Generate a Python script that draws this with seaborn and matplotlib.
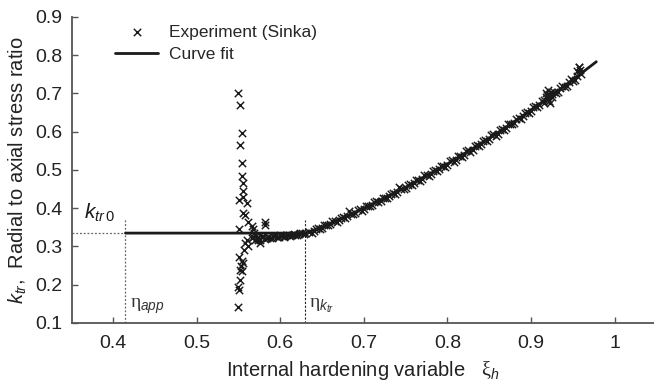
import matplotlib
matplotlib.use("Agg")
import matplotlib.pyplot as plt
import pandas as pd
import seaborn as sns

# ---------------- data ----------------
fit_x = [0.415, 0.630, 0.650, 0.675, 0.700, 0.725, 0.750, 0.775, 0.800,
         0.825, 0.850, 0.875, 0.900, 0.925, 0.950, 0.978]
fit_y = [0.335, 0.335, 0.351, 0.375, 0.400, 0.427, 0.455, 0.485, 0.516,
         0.549, 0.583, 0.619, 0.657, 0.696, 0.736, 0.783]

# scattered experimental points around xi = 0.55
cluster_x = [0.550, 0.552, 0.554, 0.552, 0.554, 0.554, 0.555, 0.556, 0.551, 0.555,
             0.560, 0.556, 0.558, 0.562, 0.566, 0.551, 0.567, 0.582, 0.582, 0.560,
             0.558, 0.562, 0.574, 0.576, 0.578, 0.551, 0.554, 0.556, 0.552, 0.554,
             0.552, 0.550, 0.551, 0.549, 0.553, 0.557, 0.571, 0.569]
cluster_y = [0.700, 0.671, 0.598, 0.565, 0.517, 0.484, 0.465, 0.446, 0.422, 0.430,
             0.413, 0.388, 0.383, 0.365, 0.354, 0.345, 0.345, 0.365, 0.356, 0.317,
             0.310, 0.300, 0.317, 0.310, 0.325, 0.273, 0.263, 0.258, 0.239, 0.235,
             0.212, 0.195, 0.185, 0.143, 0.250, 0.292, 0.328, 0.335]

# dense experimental band following the fit
band_x = [0.566, 0.570, 0.574, 0.578, 0.582, 0.586, 0.590, 0.594, 0.598, 0.602,
          0.606, 0.610, 0.614, 0.618, 0.622, 0.626, 0.630,
          0.568, 0.572, 0.576, 0.580, 0.584, 0.588, 0.592, 0.596, 0.600, 0.604,
          0.608, 0.612, 0.616, 0.620, 0.624, 0.628,
          0.635, 0.640, 0.645, 0.650, 0.655, 0.660, 0.665, 0.670, 0.675, 0.680,
          0.685, 0.690, 0.695, 0.700, 0.705, 0.710, 0.715, 0.720, 0.725, 0.730,
          0.735, 0.740, 0.745, 0.750, 0.755, 0.760, 0.765, 0.770, 0.775, 0.780,
          0.785, 0.790, 0.795, 0.800, 0.805, 0.810, 0.815, 0.820, 0.825, 0.830,
          0.835, 0.840, 0.845, 0.850, 0.855, 0.860, 0.865, 0.870, 0.875, 0.880,
          0.885, 0.890, 0.895, 0.900, 0.905, 0.910, 0.915, 0.920, 0.925, 0.930,
          0.935, 0.940, 0.945, 0.950, 0.955, 0.960,
          0.6375, 0.6425, 0.6475, 0.6525, 0.6575, 0.6625, 0.6675, 0.6725, 0.6775, 0.6825,
          0.6875, 0.6925, 0.6975, 0.7025, 0.7075, 0.7125, 0.7175, 0.7225, 0.7275, 0.7325,
          0.7375, 0.7425, 0.7475, 0.7525, 0.7575, 0.7625, 0.7675, 0.7725, 0.7775, 0.7825,
          0.7875, 0.7925, 0.7975, 0.8025, 0.8075, 0.8125, 0.8175, 0.8225, 0.8275, 0.8325,
          0.8375, 0.8425, 0.8475, 0.8525, 0.8575, 0.8625, 0.8675, 0.8725, 0.8775, 0.8825,
          0.8875, 0.8925, 0.8975, 0.9025, 0.9075, 0.9125, 0.9175, 0.9225, 0.9275, 0.9325,
          0.9375, 0.9425, 0.9475, 0.9525, 0.9575,
          0.918, 0.920, 0.922, 0.925, 0.921, 0.916, 0.957, 0.955, 0.958, 0.924, 0.919]
band_y = [0.322, 0.318, 0.321, 0.324, 0.320, 0.326, 0.323, 0.327, 0.325, 0.328,
          0.327, 0.330, 0.329, 0.331, 0.332, 0.334, 0.336,
          0.326, 0.323, 0.318, 0.327, 0.323, 0.322, 0.328, 0.324, 0.329, 0.326,
          0.331, 0.328, 0.332, 0.330, 0.335, 0.333,
          0.339, 0.340, 0.348, 0.349, 0.357, 0.358, 0.366, 0.368, 0.377, 0.381,
          0.386, 0.388, 0.397, 0.398, 0.407, 0.409, 0.418, 0.419, 0.428, 0.431,
          0.440, 0.442, 0.451, 0.453, 0.463, 0.465, 0.474, 0.477, 0.487, 0.489,
          0.499, 0.502, 0.511, 0.514, 0.525, 0.527, 0.537, 0.540, 0.551, 0.553,
          0.565, 0.567, 0.578, 0.581, 0.593, 0.595, 0.607, 0.610, 0.621, 0.624,
          0.636, 0.640, 0.651, 0.654, 0.666, 0.670, 0.682, 0.685, 0.698, 0.702,
          0.714, 0.717, 0.729, 0.733, 0.746, 0.750,
          0.336, 0.347, 0.345, 0.356, 0.355, 0.366, 0.364, 0.375, 0.374, 0.394,
          0.384, 0.395, 0.394, 0.406, 0.405, 0.416, 0.416, 0.427, 0.427, 0.438,
          0.437, 0.456, 0.449, 0.462, 0.460, 0.474, 0.472, 0.486, 0.484, 0.498,
          0.497, 0.511, 0.509, 0.523, 0.522, 0.537, 0.535, 0.550, 0.548, 0.563,
          0.562, 0.577, 0.576, 0.591, 0.590, 0.605, 0.604, 0.620, 0.619, 0.634,
          0.634, 0.649, 0.649, 0.665, 0.664, 0.681, 0.700, 0.675, 0.705, 0.703,
          0.720, 0.719, 0.737, 0.736, 0.768,
          0.690, 0.710, 0.680, 0.690, 0.698, 0.675, 0.770, 0.760, 0.762, 0.705, 0.695]

xticks = [0.4, 0.5, 0.6, 0.7, 0.8, 0.9, 1.0]
xtick_labels = ["0.4", "0.5", "0.6", "0.7", "0.8", "0.9", "1"]
yticks = [0.1, 0.2, 0.3, 0.4, 0.5, 0.6, 0.7, 0.8, 0.9]

k_tr0 = 0.335
eta_app = 0.415
eta_ktr = 0.630

# ---------------- style ----------------
sns.set_style("ticks")
plt.rcParams["font.family"] = ["Liberation Sans", "DejaVu Sans"]
plt.rcParams["mathtext.fontset"] = "custom"
plt.rcParams["mathtext.rm"] = "Liberation Serif"
plt.rcParams["mathtext.it"] = "Liberation Sans:italic"
plt.rcParams["mathtext.sf"] = "Liberation Sans"

exp_df = pd.DataFrame({"xi": cluster_x + band_x, "k": cluster_y + band_y})
fit_df = pd.DataFrame({"xi": fit_x, "k": fit_y})

fig = plt.figure(figsize=(6.54, 3.82), dpi=100)
ax = fig.add_axes([0.110, 0.1545, 0.890, 0.801])

ink = "#1a1a1a"
sns.scatterplot(data=exp_df, x="xi", y="k", marker="x", s=28, color=ink,
                linewidth=1.05, ax=ax, label="Experiment (Sinka)", zorder=3)
sns.lineplot(data=fit_df, x="xi", y="k", color=ink, linewidth=2.0, ax=ax,
             label="Curve fit", zorder=4, sort=False)

# reference lines
ax.plot([0.351, eta_app], [k_tr0, k_tr0], color="#666666", lw=0.9, ls=(0, (1.5, 1.5)))
ax.plot([eta_app, eta_app], [0.1, 0.373], color="#666666", lw=0.9, ls=(0, (1.5, 1.5)))
ax.plot([eta_ktr, eta_ktr], [0.1, 0.370], color="#222222", lw=0.8, ls=(0, (2, 1.5)))

ax.text(0.366, 0.372, r"$k_{tr\,\mathsf{0}}$", fontsize=15, color=ink)
ax.text(0.421, 0.139, r"$\mathrm{\eta}_{app}$", fontsize=14, color="#333333")
ax.text(0.635, 0.139, r"$\mathrm{\eta}_{k_{tr}}$", fontsize=14, color="#333333")

ax.set_xlim(0.351, 1.047)
ax.set_ylim(0.1, 0.9)
ax.set_xticks(xticks)
ax.set_xticklabels(xtick_labels)
ax.set_yticks(yticks)
ax.tick_params(direction="in", length=4, width=1, colors="#555555",
               labelcolor="#222222", labelsize=14)
ax.tick_params(axis="x", pad=9)
ax.tick_params(axis="y", pad=7)
for side in ["top", "right"]:
    ax.spines[side].set_visible(False)
for side in ["left", "bottom"]:
    ax.spines[side].set_color("#555555")
    ax.spines[side].set_linewidth(1.3)

ax.set_xlabel(r"Internal hardening variable   $\mathrm{\xi}_h$", fontsize=14.5,
              color="#222222", labelpad=5)
ax.set_ylabel(r"$k_{tr}$,  Radial to axial stress ratio", fontsize=14.5,
              color="#222222", labelpad=4)

ax.legend(loc="upper left", bbox_to_anchor=(0.062, 0.997), frameon=False,
          fontsize=12.5, handlelength=2.5, handletextpad=0.6, labelspacing=0.4,
          borderaxespad=0)

fig.savefig("out.png", dpi=100)
